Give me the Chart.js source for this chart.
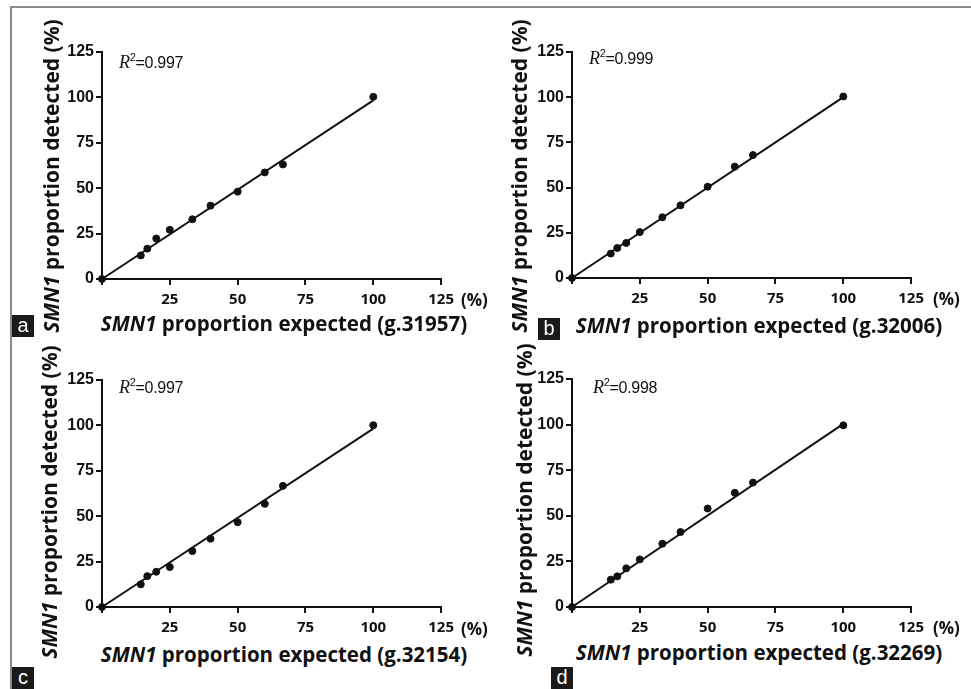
<!DOCTYPE html>
<html>
<head>
<meta charset="utf-8">
<script src="https://cdn.jsdelivr.net/npm/chart.js@4.4.0/dist/chart.umd.min.js"></script>
<style>
  body { margin: 0; background: #fff; }
  #page { position: relative; width: 971px; height: 689px; overflow: hidden; background: #fff; }
  #frame { position: absolute; left: 10px; top: 6px; width: 980px; height: 700px; border-left: 2px solid #8a8a8a; border-top: 2px solid #8a8a8a; }
  canvas { position: absolute; }
  .ytitle, .xtitle { position: absolute; font-family: "Open Sans", sans-serif; font-weight: bold; font-size: 20.5px; color: #111; white-space: nowrap; }
  .ytitle { font-size: 21px; transform: translate(-50%, -50%) rotate(-90deg); }
  .xtitle { transform: translate(-50%, -50%); }
  .r2 { position: absolute; font-family: "Liberation Sans", Arial, sans-serif; font-size: 16px; color: #111; white-space: nowrap; transform: translateY(-50%); letter-spacing: -0.3px; }
  .r2 i { font-family: "Liberation Serif", serif; font-size: 18px; }
  .r2 sup { font-size: 11px; }
  .pct { position: absolute; font-family: "Open Sans", sans-serif; font-weight: bold; font-size: 17px; color: #111; transform: translateY(-50%); }
  .tag { position: absolute; width: 22px; height: 22px; background: #1a1a1a; color: #fff; font-family: "Liberation Sans", Arial, sans-serif; font-size: 20px; line-height: 20px; text-align: center; }
</style>
</head>
<body>
<div id="page">
  <div id="frame"></div>

  <canvas id="chartA" width="420" height="270" style="left:40px;top:40px"></canvas>
  <canvas id="chartB" width="420" height="269" style="left:510px;top:40px"></canvas>
  <canvas id="chartC" width="420" height="270" style="left:40px;top:368px"></canvas>
  <canvas id="chartD" width="420" height="271" style="left:510px;top:367px"></canvas>

  <div class="ytitle" style="left:51px;top:176px"><i>SMN1</i> proportion detected (%)</div>
  <div class="ytitle" style="left:519px;top:176px"><i>SMN1</i> proportion detected (%)</div>
  <div class="ytitle" style="left:49px;top:502px"><i>SMN1</i> proportion detected (%)</div>
  <div class="ytitle" style="left:524px;top:500px"><i>SMN1</i> proportion detected (%)</div>

  <div class="xtitle" style="left:284px;top:323px"><i>SMN1</i> proportion expected (g.31957)</div>
  <div class="xtitle" style="left:759px;top:325px"><i>SMN1</i> proportion expected (g.32006)</div>
  <div class="xtitle" style="left:284px;top:654px"><i>SMN1</i> proportion expected (g.32154)</div>
  <div class="xtitle" style="left:759px;top:652px"><i>SMN1</i> proportion expected (g.32269)</div>

  <div class="r2" style="left:119px;top:62px"><i>R</i><sup>2</sup>=0.997</div>
  <div class="r2" style="left:589px;top:58px"><i>R</i><sup>2</sup>=0.999</div>
  <div class="r2" style="left:119px;top:387px"><i>R</i><sup>2</sup>=0.997</div>
  <div class="r2" style="left:593px;top:387px"><i>R</i><sup>2</sup>=0.998</div>

  <div class="pct" style="left:461px;top:299px">(%)</div>
  <div class="pct" style="left:933px;top:298px">(%)</div>
  <div class="pct" style="left:461px;top:628px">(%)</div>
  <div class="pct" style="left:933px;top:627px">(%)</div>

  <div class="tag" style="left:12px;top:315px">a</div>
  <div class="tag" style="left:538px;top:318px">b</div>
  <div class="tag" style="left:12px;top:667px">c</div>
  <div class="tag" style="left:551px;top:667px">d</div>
</div>

<script>
// expected proportion (%) - same for all four panels
const expected = [0, 14.3, 16.7, 20, 25, 33.3, 40, 50, 60, 66.7, 100];

// detected proportion (%)
const detectedA = [0, 13.0, 16.7, 22.3, 27.1, 32.9, 40.4, 48.1, 58.7, 63.1, 100.3];
const detectedB = [0, 13.5, 16.6, 19.4, 25.4, 33.6, 40.2, 50.5, 61.6, 68.0, 100.4];
const detectedC = [0, 12.5, 17.0, 19.4, 22.0, 30.8, 37.6, 46.7, 56.8, 66.7, 100.1];
const detectedD = [0, 15.0, 16.8, 21.2, 26.1, 34.7, 41.1, 54.0, 62.6, 68.2, 99.6];

// fitted line end points (x = 0 and x = 100)
const fitX = [0, 100];
const fitA = [0, 98.4];
const fitB = [0, 100.0];
const fitC = [0, 98.2];
const fitD = [0, 100.4];

const tickValues = [0, 25, 50, 75, 100, 125];

function makePanel(id, detected, fit) {
  const ctx = document.getElementById(id).getContext('2d');
  const pts = expected.map((x, i) => ({ x: x, y: detected[i] }));
  const line = fitX.map((x, i) => ({ x: x, y: fit[i] }));

  const axisCommon = {
    min: 0,
    max: 125,
    border: { display: true, color: '#111', width: 2 },
    grid: { drawOnChartArea: false, drawTicks: true, tickLength: 6, color: '#111', lineWidth: 2 },
    afterBuildTicks: s => { s.ticks = tickValues.map(v => ({ value: v })); }
  };

  new Chart(ctx, {
    type: 'scatter',
    data: {
      datasets: [{
        data: line,
        showLine: true,
        borderColor: '#111',
        borderWidth: 2,
        pointRadius: 0,
        clip: false
      }, {
        data: pts,
        backgroundColor: '#111',
        borderColor: '#111',
        pointRadius: 3.5,
        clip: false
      }]
    },
    options: {
      responsive: false,
      animation: false,
      layout: { padding: { top: 12, right: 16, left: 0, bottom: 0 } },
      plugins: { legend: { display: false }, tooltip: { enabled: false } },
      scales: {
        x: Object.assign({}, axisCommon, {
          ticks: {
            color: '#111', padding: 6,
            font: { family: "'Open Sans', sans-serif", weight: 'bold', size: 15 },
            callback: v => v === 0 ? '' : v
          },
          afterFit: s => { s.height = 31; }
        }),
        y: Object.assign({}, axisCommon, {
          ticks: {
            color: '#111', padding: 2,
            font: { family: "'Liberation Sans', Arial, sans-serif", weight: 'bold', size: 16 }
          },
          afterFit: s => { s.width = 62; }
        })
      }
    }
  });
}

makePanel('chartA', detectedA, fitA);
makePanel('chartB', detectedB, fitB);
makePanel('chartC', detectedC, fitC);
makePanel('chartD', detectedD, fitD);
</script>
</body>
</html>
